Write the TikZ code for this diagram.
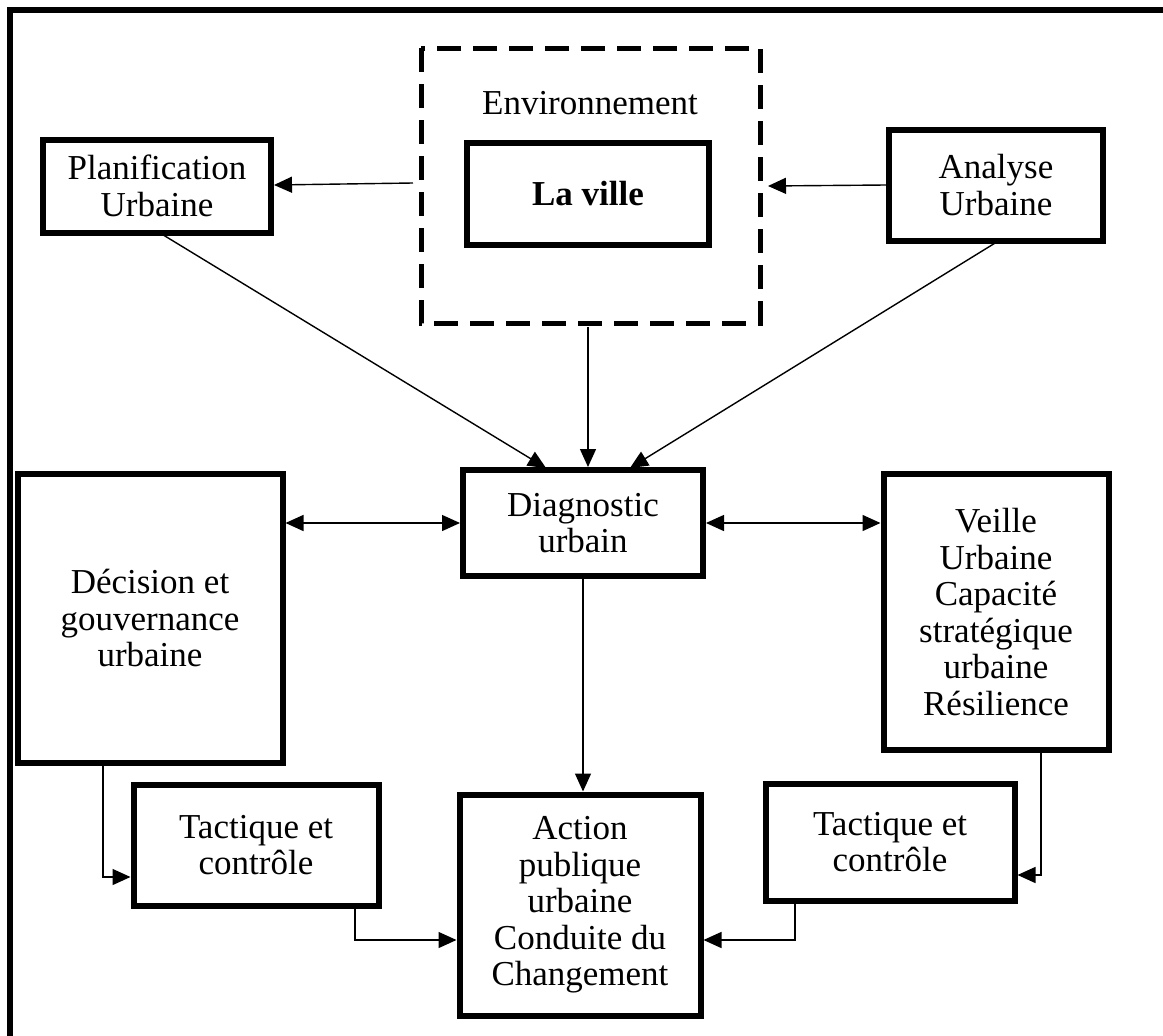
\documentclass[tikz,border=0pt]{standalone}
\usepackage{fontspec}
\setmainfont{Liberation Serif}
\usetikzlibrary{arrows.meta}
\begin{document}
\begin{tikzpicture}[x=1pt,y=-1pt,
  box/.style={draw,line width=6pt,align=center,inner sep=0pt,
    font=\fontsize{35}{36.5}\selectfont},
  envbox/.style={draw,line width=5pt,dash pattern=on 24pt off 12pt},
  tip/.tip={Triangle[length=18pt,width=16pt]},
  link/.style={line width=1.4pt,-tip},
  dlink/.style={line width=1.4pt,tip-tip},
  lbl/.style={align=center,font=\fontsize{35}{36.5}\selectfont}]
\useasboundingbox (0,0) rectangle (1163,1036);
% outer frame (only top and left edges inside the page)
\draw[line width=6pt] (10,1040) -- (10,10) -- (1170,10);

% environment and the city
\draw[envbox] (421,48) rectangle (760,323);
\node[lbl] (env) at (590,103) {Environnement};
\node[box,minimum width=242pt,minimum height=102pt,font=\fontsize{35}{36.5}\selectfont\bfseries] (ville) at (588,194) {La ville};
\coordinate (envL) at (413,183);
\coordinate (envR) at (768,186);
\coordinate (envB) at (588,327);

\node[box,minimum width=228pt,minimum height=93pt] (plan) at (157,186) {Planification\\Urbaine};
\node[box,minimum width=214pt,minimum height=111pt] (anal) at (996,185) {Analyse\\Urbaine};
\node[box,minimum width=240pt,minimum height=106pt] (diag) at (583,523) {Diagnostic\\urbain};
\node[box,minimum width=265pt,minimum height=289pt] (deci) at (150,618) {D\'ecision et\\gouvernance\\urbaine};
\node[box,minimum width=225pt,minimum height=276pt] (veil) at (996,612) {Veille\\Urbaine\\Capacit\'e\\strat\'egique\\urbaine\\R\'esilience};
\node[box,minimum width=245pt,minimum height=121pt] (tacL) at (256,845) {Tactique et\\contr\^ole};
\node[box,minimum width=241pt,minimum height=221pt] (act) at (580,905) {Action\\publique\\urbaine\\Conduite du\\Changement};
\node[box,minimum width=249pt,minimum height=117pt] (tacR) at (890,842) {Tactique et\\contr\^ole};

% connectors
\draw[link] (envL) -- (plan.east |- 0,185);
\draw[link] (anal.west |- 0,185) -- (envR);
\draw[link] (160,233) -- (546,468);
\draw[link] (1000,240) -- (630,468);
\draw[link] (envB) -- (envB |- diag.north);
\draw[dlink] (deci.east |- 0,523) -- (diag.west |- 0,523);
\draw[dlink] (diag.east |- 0,523) -- (veil.west |- 0,523);
\draw[link] (diag.south) -- (diag.south |- act.north);
\draw[link] (103,766) |- (tacL.west |- 0,877);
\draw[link] (355,908) |- (act.west |- 0,940);
\draw[link] (1041,753) |- (tacR.east |- 0,875);
\draw[link] (795,903) |- (act.east |- 0,940);
\end{tikzpicture}
\end{document}
